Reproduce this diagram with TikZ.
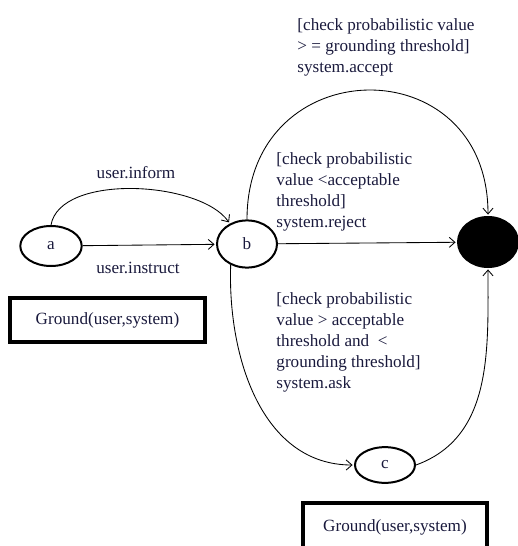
\documentclass[tikz,border=0pt]{standalone}
\usepackage{fontspec}
\setmainfont{Liberation Serif}
\usepackage{tikz}
\usetikzlibrary{arrows,arrows.meta,automata,shapes}
\definecolor{inkcolor}{RGB}{25,25,60}

\begin{document}
\begin{tikzpicture}[x=0.7pt,y=-0.7pt,>={Straight Barb[length=4pt,width=7pt]},shorten >=1pt,semithick,
  font=\fontsize{12}{14.7}\selectfont,text=inkcolor]
 \tikzstyle{every state}=[ellipse,draw=black,line width=1.4pt,inner sep=0pt,minimum width=42pt,minimum height=33pt]
 \tikzstyle{guard}=[align=left,anchor=north west,inner sep=0pt]
 \tikzstyle{groundbox}=[draw=black,line width=2.8pt,minimum height=30.8pt]

 \clip (0,0) rectangle (518,546);

   \node[state,minimum width=43pt,minimum height=28pt] (a) at (51,246) {a};
   \node[state] (b) at (247,244) {b};
   \node[state,minimum height=25pt] (c) at (385,465) {c};
   \node[state,fill=black,minimum height=35pt] (fin) at (488,242) {};

   \node (informlbl) at (136,173) {user.inform};
   \node (instructlbl) at (138,268) {user.instruct};
   \node[guard] (acceptlbl) at (297,18) {[check probabilistic value\\> = grounding threshold]\\system.accept};
   \node[guard] (rejectlbl) at (276,152) {[check probabilistic\\value <acceptable\\threshold]\\system.reject};
   \node[guard] (asklbl) at (276,292) {[check probabilistic\\value > acceptable\\threshold and \ <\\grounding threshold]\\system.ask};

   \node[groundbox,minimum width=136.5pt] (ground1) at (107.5,320) {Ground(user,system)};
   \node[groundbox,minimum width=128.8pt,minimum height=33pt] (ground2) at (395,527) {Ground(user,system)};

   \path[->]
   (a.north) edge [out=80,in=125,looseness=0.75] (b.130)
   (a) edge (b)
   (b.north) edge [out=90,in=90,looseness=1.8] (fin.north)
   (b) edge (fin)
   (b.232) edge [out=-92,in=180] (c.west)
   (c.east) edge [out=20,in=-90] (fin.south);

\end{tikzpicture}
\end{document}
